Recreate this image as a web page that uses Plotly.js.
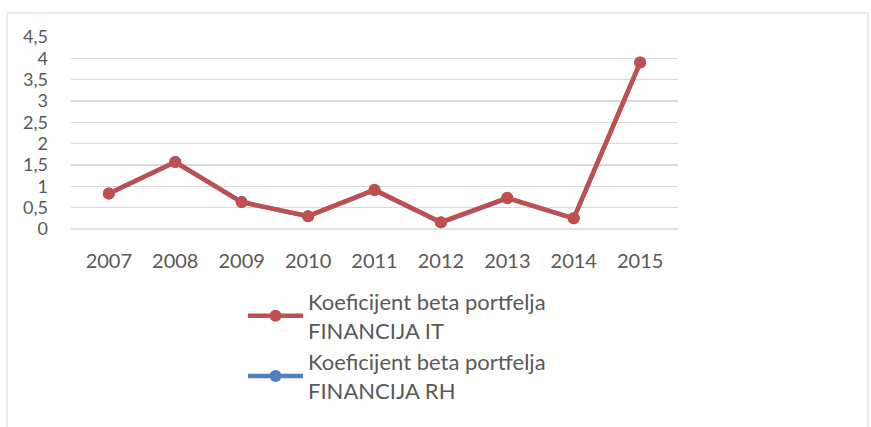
<!DOCTYPE html>
<html>
<head>
<meta charset="utf-8">
<script src="https://cdn.plot.ly/plotly-3.0.1.min.js"></script>
<style>html,body{margin:0;padding:0;background:#fff;}#chart{width:871px;height:427px;}</style>
</head>
<body>
<div id="chart"></div>
<script>
const years = ['2007','2008','2009','2010','2011','2012','2013','2014','2015'];
const betaIT = [0.83, 1.57, 0.63, 0.30, 0.92, 0.16, 0.73, 0.25, 3.90];
const betaRH = [0.83, 1.57, 0.63, 0.30, 0.91, 0.15, 0.72, 0.25, 3.90];
const yTicks = [0, 0.5, 1, 1.5, 2, 2.5, 3, 3.5, 4, 4.5];
const yTickText = ['0', '0,5', '1', '1,5', '2', '2,5', '3', '3,5', '4', '4,5'];
const names = ['Koeficijent beta portfelja<br>FINANCIJA IT', 'Koeficijent beta portfelja<br>FINANCIJA RH'];

const traces = [
  {x: years, y: betaRH, name: names[1], type: 'scatter', mode: 'lines+markers',
   line: {color: '#4f81bd', width: 4.5}, marker: {color: '#4f81bd', size: 12}, legendrank: 2},
  {x: years, y: betaIT, name: names[0], type: 'scatter', mode: 'lines+markers',
   line: {color: '#c0504d', width: 4.5}, marker: {color: '#c0504d', size: 12}, legendrank: 1}
];

const layout = {
  width: 871, height: 427,
  margin: {l: 71, r: 193, t: 37, b: 198, autoexpand: false},
  paper_bgcolor: '#ffffff', plot_bgcolor: '#ffffff',
  font: {family: 'Lato, "Open Sans", sans-serif', size: 20, color: '#595959'},
  showlegend: true,
  legend: {x: 0.2834, y: -0.269, xanchor: 'left', yanchor: 'top', traceorder: 'normal',
           font: {size: 22, color: '#595959'}, itemwidth: 55, tracegroupgap: 0, bgcolor: 'rgba(0,0,0,0)'},
  xaxis: {type: 'category', showgrid: false, zeroline: false, showline: false, automargin: false,
          ticks: '', ticklabelstandoff: 18, tickfont: {size: 20, color: '#595959'}, fixedrange: true},
  yaxis: {range: [0, 4.5], tickvals: yTicks, ticktext: yTickText, showgrid: true, automargin: false,
          gridcolor: '#d9d9d9', gridwidth: 1.5, zeroline: false, showline: false,
          ticks: '', ticklabelstandoff: 22, tickfont: {size: 18, color: '#595959'}, fixedrange: true},
  shapes: [
    {type: 'line', xref: 'paper', yref: 'paper', x0: 0, x1: 1, y0: 0, y1: 0, line: {color: '#d9d9d9', width: 1.5}},
    {type: 'rect', xref: 'paper', yref: 'paper', x0: -0.1054, x1: 1.313, y0: -1.1, y1: 1.125,
     line: {color: '#d9d9d9', width: 1}, fillcolor: 'rgba(0,0,0,0)', layer: 'below'}
  ]
};

Plotly.newPlot('chart', traces, layout, {staticPlot: true, displayModeBar: false});
</script>
</body>
</html>
